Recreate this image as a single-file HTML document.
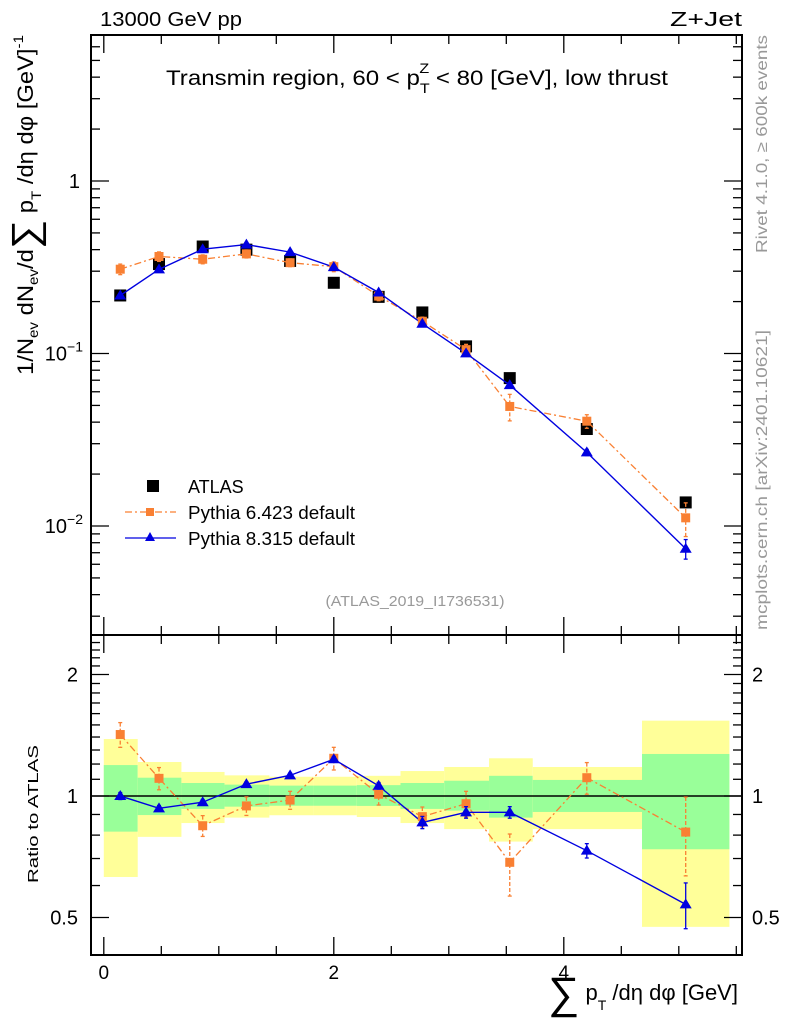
<!DOCTYPE html>
<html><head><meta charset="utf-8"><style>
html,body{margin:0;padding:0;background:#fff;}
svg{display:block;font-family:"Liberation Sans","DejaVu Sans",sans-serif;}
</style></head><body>
<svg id="chart" width="786" height="1024" viewBox="0 0 786 1024" xmlns="http://www.w3.org/2000/svg">
<rect x="0" y="0" width="786" height="1024" fill="#fff"/>
<g id="bands"></g>
<g id="marks"></g>
<g id="axes"></g>
<rect x="91" y="35" width="651" height="600" fill="none" stroke="#000" stroke-width="2"/>
<rect x="91" y="635" width="651" height="320" fill="none" stroke="#000" stroke-width="2"/>
<text x="100" y="26" font-size="20" textLength="142" lengthAdjust="spacingAndGlyphs">13000 GeV pp</text>
<text x="670" y="26" font-size="20" textLength="72" lengthAdjust="spacingAndGlyphs">Z+Jet</text>
<text x="166" y="85" font-size="21" textLength="502" lengthAdjust="spacingAndGlyphs">Transmin region, 60 &lt; p<tspan font-size="14" dy="8">T</tspan><tspan font-size="14" dx="-9" dy="-20">Z</tspan><tspan dy="12"> &lt; 80 [GeV], low thrust</tspan></text>
<text x="415" y="606" font-size="15" fill="#999" text-anchor="middle" textLength="179" lengthAdjust="spacingAndGlyphs">(ATLAS_2019_I1736531)</text>
<text transform="translate(767,253) rotate(-90)" font-size="16" fill="#999" textLength="218" lengthAdjust="spacingAndGlyphs">Rivet 4.1.0, ≥ 600k events</text>
<text transform="translate(767,630) rotate(-90)" font-size="16" fill="#999" textLength="300" lengthAdjust="spacingAndGlyphs">mcplots.cern.ch [arXiv:2401.10621]</text>
<text transform="translate(33,375) rotate(-90)" font-size="22" textLength="340" lengthAdjust="spacingAndGlyphs">1/N<tspan font-size="14" dy="5">ev</tspan><tspan dy="-5"> dN</tspan><tspan font-size="14" dy="5">ev</tspan><tspan dy="-5">/d</tspan><tspan font-size="38" dy="5">∑</tspan><tspan dy="-5"> p</tspan><tspan font-size="14" dy="8">T</tspan><tspan dy="-8"> /dη dφ  [GeV]</tspan><tspan font-size="14" dy="-10">-1</tspan></text>
<text transform="translate(38,883) rotate(-90)" font-size="15" textLength="138" lengthAdjust="spacingAndGlyphs">Ratio to ATLAS</text>
<text x="548" y="1000" font-size="22"><tspan font-size="44" dy="8">∑</tspan><tspan dy="-8"> p</tspan><tspan font-size="14" dy="10">T</tspan><tspan dy="-10"> /dη dφ [GeV]</tspan></text>
<g>
<rect x="147" y="480" width="12" height="12" fill="#000"/>
<text x="188" y="493" font-size="18">ATLAS</text>
<line x1="125" y1="512" x2="176" y2="512" stroke="#f98033" stroke-width="1.3" stroke-dasharray="7,3,2,3"/>
<rect x="146" y="508" width="8" height="8" fill="#f98033"/>
<text x="188" y="519" font-size="18" textLength="167" lengthAdjust="spacingAndGlyphs">Pythia 6.423 default</text>
<line x1="125" y1="538" x2="176" y2="538" stroke="#0000e0" stroke-width="1.3"/>
<path d="M150,532 L155,541 L145,541 Z" fill="#0000e0"/>
<text x="188" y="545" font-size="18" textLength="167" lengthAdjust="spacingAndGlyphs">Pythia 8.315 default</text>
</g>
</svg>
<script>
const xCenters=[0.143,0.48,0.86,1.24,1.62,2.0,2.39,2.77,3.15,3.53,4.2,5.06];
const binEdges=[0,0.295,0.675,1.05,1.44,1.82,2.2,2.58,2.96,3.35,3.73,4.68,5.44];
const atlasVals=[0.217,0.33,0.417,0.40,0.344,0.257,0.213,0.173,0.11,0.072,0.0365,0.0137];
const py6Ratio=[1.42,1.106,0.844,0.945,0.977,1.24,1.01,0.889,0.957,0.685,1.11,0.814];
const py6Err=[0.1,0.07,0.05,0.05,0.05,0.08,0.06,0.05,0.07,0.12,0.1,0.18];
const py8Ratio=[1.0,0.932,0.965,1.07,1.125,1.233,1.06,0.86,0.911,0.911,0.732,0.539];
const py8Err=[0.02,0.015,0.015,0.015,0.015,0.02,0.02,0.03,0.03,0.03,0.03,0.07];
const yellowHi=[1.384,1.214,1.147,1.125,1.116,1.116,1.122,1.153,1.18,1.24,1.18,1.537];
const yellowLo=[0.63,0.792,0.857,0.884,0.896,0.896,0.887,0.857,0.828,0.771,0.828,0.474];
const greenHi=[1.193,1.11,1.077,1.067,1.061,1.061,1.064,1.077,1.091,1.122,1.096,1.271];
const greenLo=[0.816,0.897,0.929,0.941,0.946,0.946,0.945,0.929,0.92,0.884,0.913,0.738];
const xTicks=[0,2,4];
const mainYTicks=[{v:1,t:"1"},{v:0.1,t:"10",e:"−1"},{v:0.01,t:"10",e:"−2"}];
const ratioYTicks=[2,1,0.5];

const NS="http://www.w3.org/2000/svg";
const X=u=>103.8+115*u;
const YM=v=>181-172.5*Math.log10(v);
const YR=r=>796-121.5*Math.log2(r);
function el(tag,attrs,parent){const e=document.createElementNS(NS,tag);for(const k in attrs)e.setAttribute(k,attrs[k]);parent.appendChild(e);return e;}
const bands=document.getElementById('bands'),marks=document.getElementById('marks'),axes=document.getElementById('axes');
const OR="#f98033",BL="#0000e0";

for(let i=0;i<yellowHi.length;i++){
  const x0=X(binEdges[i]),x1=X(binEdges[i+1]);
  const y=el('rect',{x:x0,y:YR(yellowHi[i]),width:x1-x0,height:YR(yellowLo[i])-YR(yellowHi[i]),fill:'#ffff99'},bands);
  
  
  const g=el('rect',{x:x0,y:YR(greenHi[i]),width:x1-x0,height:YR(greenLo[i])-YR(greenHi[i]),fill:'#99ff99'},bands);
  
  
}
el('line',{x1:91,x2:742,y1:YR(1),y2:YR(1),stroke:'#000','stroke-width':1.5},bands);

function tri(x,y,c,p){const t=el('path',{d:`M${x},${y-6} L${x+6},${y+4} L${x-6},${y+4} Z`,fill:c},p);return t;}
function sq(x,y,s,c,p){return el('rect',{x:x-s/2,y:y-s/2,width:s,height:s,fill:c},p);}
function errbar(x,y1,y2,c,dash,p){el('line',{x1:x,x2:x,y1:y1,y2:y2,stroke:c,'stroke-width':1.3,'stroke-dasharray':dash||'none'},p);el('line',{x1:x-2,x2:x+2,y1:y1,y2:y1,stroke:c,'stroke-width':1.3},p);el('line',{x1:x-2,x2:x+2,y1:y2,y2:y2,stroke:c,'stroke-width':1.3},p);}

for(let i=0;i<atlasVals.length;i++){
  const a=sq(X(xCenters[i]),YM(atlasVals[i]),12,'#000',marks);
  
  
}
let p6='',p8='',r6='',r8='';
for(let i=0;i<xCenters.length;i++){
  const x=X(xCenters[i]);
  p6+=(i?'L':'M')+x+','+YM(atlasVals[i]*py6Ratio[i]);
  p8+=(i?'L':'M')+x+','+YM(atlasVals[i]*py8Ratio[i]);
  r6+=(i?'L':'M')+x+','+YR(py6Ratio[i]);
  r8+=(i?'L':'M')+x+','+YR(py8Ratio[i]);
}
const l6=el('path',{d:p6,fill:'none',stroke:OR,'stroke-width':1.3,'stroke-dasharray':'7,3,2,3'},marks);


const l8=el('path',{d:p8,fill:'none',stroke:BL,'stroke-width':1.4},marks);


const lr6=el('path',{d:r6,fill:'none',stroke:OR,'stroke-width':1.3,'stroke-dasharray':'7,3,2,3'},marks);


const lr8=el('path',{d:r8,fill:'none',stroke:BL,'stroke-width':1.4},marks);


for(let i=0;i<xCenters.length;i++){
  const x=X(xCenters[i]),a=atlasVals[i];
  errbar(x,YM(a*(py6Ratio[i]+py6Err[i])),YM(a*(py6Ratio[i]-py6Err[i])),OR,'4,2',marks);
  const m6=sq(x,YM(a*py6Ratio[i]),9,OR,marks);
  
  
  errbar(x,YM(a*(py8Ratio[i]+py8Err[i])),YM(a*(py8Ratio[i]-py8Err[i])),BL,null,marks);
  const m8=tri(x,YM(a*py8Ratio[i]),BL,marks);
  
  
  errbar(x,YR(py6Ratio[i]+py6Err[i]),YR(py6Ratio[i]-py6Err[i]),OR,'4,2',marks);
  const q6=sq(x,YR(py6Ratio[i]),9,OR,marks);
  
  
  errbar(x,YR(py8Ratio[i]+py8Err[i]),YR(py8Ratio[i]-py8Err[i]),BL,null,marks);
  const q8=tri(x,YR(py8Ratio[i]),BL,marks);
  
  
}

const T={stroke:'#000','stroke-width':1.3};
for(let u=0;u<=5.5;u+=0.5){
  const x=X(u),L=(Math.abs(u-Math.round(u/2)*2)<1e-6)?18:9;
  for(const [yb,dir] of [[635,-1],[35,1],[955,-1],[635,1]]){
    el('line',Object.assign({x1:x,x2:x,y1:yb,y2:yb+dir*L},T),axes);
  }
}
xTicks.forEach(u=>{const t=el('text',{x:X(u),y:979,'font-size':19,'text-anchor':'middle'},axes);t.textContent=u;

});
for(let d=-3;d<=0;d++){for(let k=1;k<=9;k++){const v=k*Math.pow(10,d);const y=YM(v);if(y<36||y>634)continue;const L=k==1?18:9;
  el('line',Object.assign({x1:91,x2:91+L,y1:y,y2:y},T),axes);el('line',Object.assign({x1:742,x2:742-L,y1:y,y2:y},T),axes);}}
mainYTicks.forEach(o=>{const t=el('text',{x:o.e?62:80,y:YM(o.v)+7,'font-size':20,'text-anchor':'end'},axes);t.textContent=o.t;
if(o.e){const s=el('tspan',{'font-size':14,dy:-9},t);s.textContent=o.e;t.setAttribute('x',83);}

});
const rt=[0.5,0.6,0.7,0.8,0.9,1,1.1,1.2,1.3,1.4,1.5,1.6,1.7,1.8,1.9,2,2.1,2.2,2.3,2.4,2.5];
rt.forEach(r=>{const y=YR(r);if(y<636||y>954)return;const L=(r==0.5||r==1||r==2)?18:9;
  el('line',Object.assign({x1:91,x2:91+L,y1:y,y2:y},T),axes);el('line',Object.assign({x1:742,x2:742-L,y1:y,y2:y},T),axes);});
ratioYTicks.forEach(r=>{for(const [x,a] of [[78,'end'],[752,'start']]){const t=el('text',{x:x,y:YR(r)+7,'font-size':20,'text-anchor':a},axes);t.textContent=r;

}});
</script>
</body></html>
